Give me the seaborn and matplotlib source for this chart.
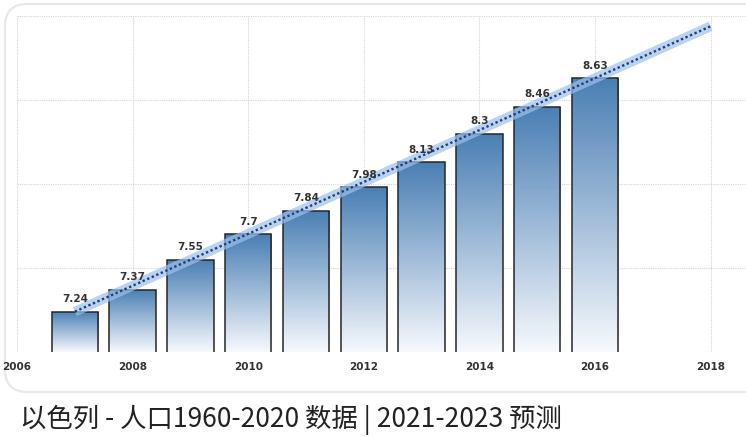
import numpy as np
import pandas as pd
import matplotlib
matplotlib.use("Agg")
import matplotlib.pyplot as plt
from matplotlib.patches import FancyBboxPatch
from matplotlib.colors import LinearSegmentedColormap
import seaborn as sns

years = [2007, 2008, 2009, 2010, 2011, 2012, 2013, 2014, 2015, 2016]
values = [7.24, 7.37, 7.55, 7.70, 7.84, 7.98, 8.13, 8.30, 8.46, 8.63]
value_labels = ["7.24", "7.37", "7.55", "7.7", "7.84", "7.98", "8.13", "8.3", "8.46", "8.63"]
xticks = [2006, 2008, 2010, 2012, 2014, 2016, 2018]
trend_years = [2007, 2018]
title = "以色列 - 人口1960-2020 数据 | 2021-2023 预测"

sns.set_theme(style="white")
plt.rcParams['font.family'] = ['DejaVu Sans']

W, H = 746, 437
fig = plt.figure(figsize=(W / 100, H / 100), dpi=100)

# outer rounded frame
frame = FancyBboxPatch((5 / W, 1 - 392 / H), 800 / W, (392 - 4) / H,
                       boxstyle="round,pad=0,rounding_size=0.03",
                       transform=fig.transFigure, facecolor="white",
                       edgecolor="#e8e8e8", linewidth=1.6, mutation_aspect=W / H,
                       zorder=-5)
fig.patches.append(frame)

ax = fig.add_axes([17 / W, 1 - 352 / H, (W - 17) / W, (352 - 16) / H])
ax.set_facecolor("none")
ax.set_zorder(2)

df = pd.DataFrame({"year": years, "value": values})
sns.barplot(data=df, x="year", y="value", native_scale=True, width=0.8,
            color="#4a7fb4", edgecolor="#262626", linewidth=1.1, ax=ax, zorder=2)

xlim = (2006, 2006 + (W - 17) / 57.8)
ylim = (7.0, 9.0)

# gradient fill
cmap = LinearSegmentedColormap.from_list("g", ["#f7f9fd", "#4a7fb4"])
grad = np.linspace(0, 1, 256).reshape(-1, 1)
for p in list(ax.patches):
    x0, y0 = p.get_x(), ylim[0]
    w, h = p.get_width(), p.get_height()
    top = p.get_y() + h
    im = ax.imshow(grad, cmap=cmap, origin="lower", aspect="auto",
                   extent=[x0, x0 + w, y0, top], zorder=2.5)
    im.set_clip_path(p)
    p.set_facecolor("none")
    p.set_zorder(3)
ax.set_xlim(*xlim)
ax.set_ylim(*ylim)

# value labels
for yr, v, lab in zip(years, values, value_labels):
    ax.annotate(lab, (yr, v), xytext=(0, 5.5), textcoords="offset points",
                ha="center", va="bottom", fontsize=7.5, color="#333333",
                fontweight="bold", zorder=10)

# trend line (through first and last observations, extended)
slope = (values[-1] - values[0]) / (years[-1] - years[0])
trend_vals = [values[0] + slope * (t - years[0]) for t in trend_years]
tdf = pd.DataFrame({"year": trend_years, "value": trend_vals})
sns.lineplot(data=tdf, x="year", y="value", color="#9ec1ec", linewidth=7,
             alpha=0.7, ax=ax, zorder=6, solid_capstyle="butt")
sns.lineplot(data=tdf, x="year", y="value", color="#1d3f7c", linewidth=1.7,
             linestyle=(0, (1, 1.1)), ax=ax, zorder=7)

ax.set_xticks(xticks)
ax.set_xticklabels([str(t) for t in xticks], fontsize=7.5, fontweight="bold",
                   color="#333333")
ax.set_yticks([7.0, 7.5, 8.0, 8.5, 9.0])
ax.set_yticklabels([])
ax.tick_params(axis="x", length=3, color="#cccccc", pad=4)
ax.tick_params(axis="y", length=0)
ax.grid(True, color="#d6d6d6", linestyle=(0, (1, 1)), linewidth=0.8, zorder=0)
ax.set_axisbelow(True)
for s in ax.spines.values():
    s.set_visible(False)
ax.set_xlabel("")
ax.set_ylabel("")

fig.text(20 / W, 1 - 420 / H, title, fontsize=19, color="#222222",
         family=['Noto Sans CJK SC', 'DejaVu Sans'], va="center", ha="left")

fig.savefig("out.png", dpi=100)
